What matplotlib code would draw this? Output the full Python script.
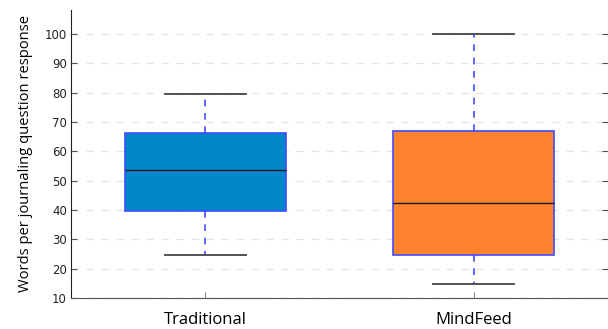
import matplotlib.pyplot as plt

# Summary statistics per condition (words per journaling question response)
groups = ["Traditional", "MindFeed"]
q1 = [39.7, 24.8]
medians = [53.5, 42.4]
q3 = [66.4, 66.8]
whisker_low = [24.6, 14.9]
whisker_high = [79.7, 100.0]
box_colors = ["#0288CA", "#FF822E"]

y_ticks = list(range(10, 101, 10))

stats = []
for i, name in enumerate(groups):
    stats.append({
        "label": name,
        "q1": q1[i],
        "med": medians[i],
        "q3": q3[i],
        "whislo": whisker_low[i],
        "whishi": whisker_high[i],
        "fliers": [],
    })

fig = plt.figure(figsize=(6.08, 3.29), dpi=100)
ax = fig.add_axes([71 / 608, 1 - 298 / 329, 1 - 71 / 608, (298 - 10) / 329])

bp = ax.bxp(
    stats,
    positions=[1, 2],
    widths=0.6,
    patch_artist=True,
    showfliers=False,
    boxprops=dict(edgecolor="#3F4BFF", linewidth=1.2),
    medianprops=dict(color="#1a1a1a", linewidth=1.0),
    whiskerprops=dict(color="#3F4BFF", linewidth=1.2, linestyle=(0, (4, 4))),
    capprops=dict(color="#444444", linewidth=1.3),
    capwidths=0.3,
)
for patch, c in zip(bp["boxes"], box_colors):
    patch.set_facecolor(c)

ax.set_xlim(0.5, 2.5)
ax.set_ylim(10, 108.2)
ax.set_yticks(y_ticks)
ax.set_xticks([1, 2])
ax.set_xticklabels(groups, fontsize=12, family=["Open Sans", "DejaVu Sans"])
ax.yaxis.grid(True, color="#e4e4e4", linestyle=(0, (6, 6)), linewidth=0.9)
ax.set_axisbelow(True)

ax.set_ylabel("Words per journaling question response", fontsize=10.6,
              family=["Open Sans", "DejaVu Sans"], labelpad=8)

for side in ["top", "right"]:
    ax.spines[side].set_visible(False)
ax.spines["left"].set_color("#222222")
ax.spines["bottom"].set_color("#555555")
ax.tick_params(axis="y", direction="in", length=4, color="#555555",
               labelsize=8.5, labelcolor="#222222", right=True, pad=3)
ax.tick_params(axis="x", direction="in", length=4, color="#888888", pad=10)

fig.savefig("out.png", dpi=100)
